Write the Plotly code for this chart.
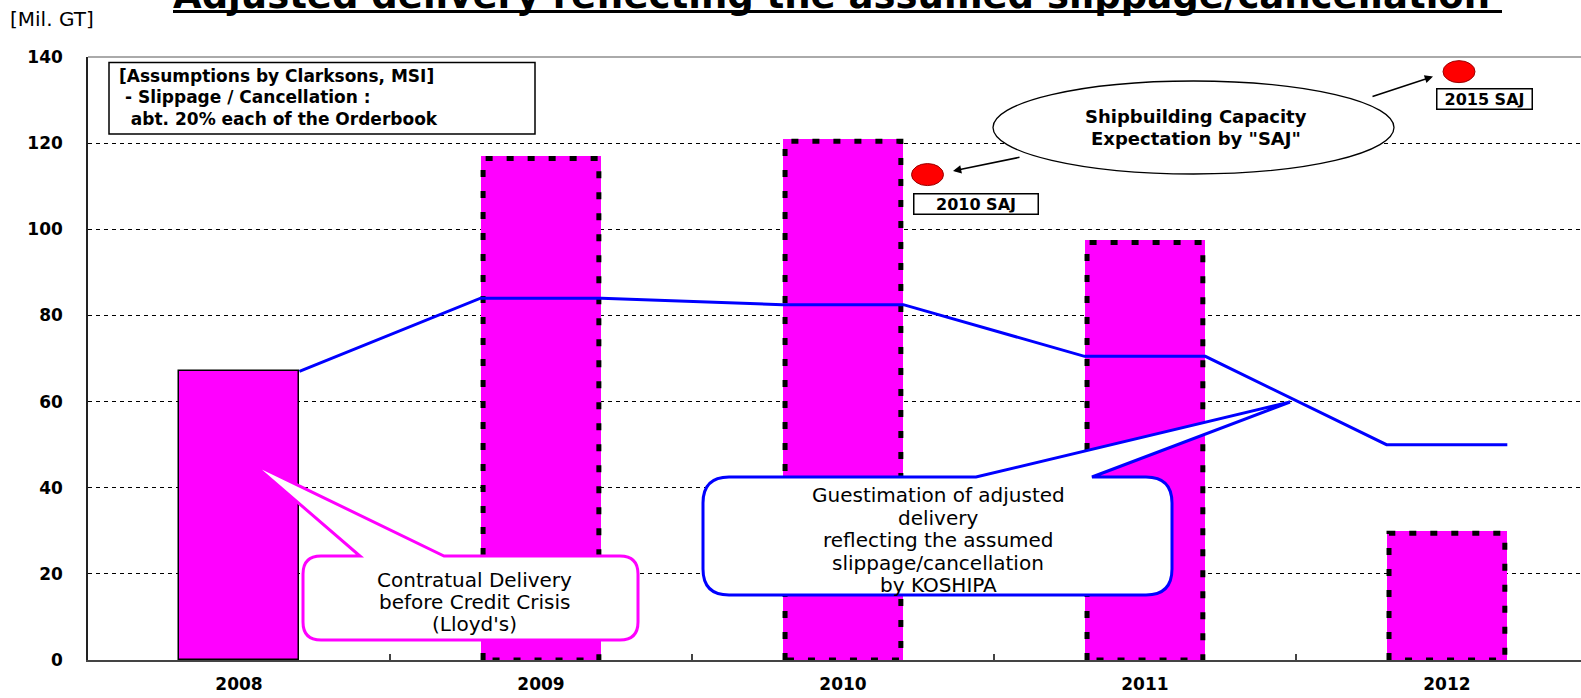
import plotly.graph_objects as go

# ---- data -------------------------------------------------------------
years = ["2008", "2009", "2010", "2011", "2012"]
contractual = [67, 117, 121, 97.5, 30]          # Contractual delivery (Lloyd's)
adjusted = [67, 84, 82.5, 70.5, 50]             # KOSHIPA adjusted delivery
saj_labels = ["2010 SAJ", "2015 SAJ"]
saj_values = [112.7, 136.6]                     # SAJ capacity expectation
y_ticks = [0, 20, 40, 60, 80, 100, 120, 140]

# ---- geometry ---------------------------------------------------------
W, H = 1581, 698
ML, MR, MT, MB = 88, 0, 57, 38
X_RANGE = [-0.5, 4.444]
Y_RANGE = [0, 140]
BAR_W = 0.4
saj_pos = [2.28, 4.04]                          # where the SAJ dots sit on the x scale

PW = W - ML - MR
PH = H - MT - MB
UX = PW / (X_RANGE[1] - X_RANGE[0])             # px per category unit
UY = PH / (Y_RANGE[1] - Y_RANGE[0])             # px per Mil. GT


def px(x):
    return (x - ML) / PW


def py(y):
    return (H - MB - y) / PH


MAGENTA = "#FF00FF"
BLUE = "#0000FF"
FONT = "DejaVu Sans"

fig = go.Figure()
idx = list(range(len(years)))

# bars
fig.add_trace(go.Bar(
    x=idx, y=contractual, width=BAR_W,
    marker=dict(color=MAGENTA,
                line=dict(color="#000000", width=[1.5, 0, 0, 0, 0])),
    showlegend=False, hoverinfo="skip"))

# dotted outlines on the forecast bars (2009 onwards)
dx = 2.5 / UX
dy = 2.5 / UY
for i in idx[1:]:
    v = contractual[i]
    xl, xr = i - BAR_W / 2 + dx, i + BAR_W / 2 - dx
    fig.add_trace(go.Scatter(
        x=[xl, xl, xr, xr, xl], y=[0, v - dy, v - dy, 0, 0],
        mode="lines", line=dict(color="#000000", width=5, dash="7px,14px"),
        showlegend=False, hoverinfo="skip"))

# adjusted delivery line, flat across each bar
line_x, line_y = [], []
for i, v in zip(idx, adjusted):
    if i > 0:
        line_x.append(i - BAR_W / 2)
        line_y.append(v)
    line_x.append(i + BAR_W / 2)
    line_y.append(v)
fig.add_trace(go.Scatter(x=line_x, y=line_y, mode="lines",
                         line=dict(color=BLUE, width=3),
                         showlegend=False, hoverinfo="skip"))

shapes = []
annotations = []


def text_block(lines, x, cy, spacing, size, bold=False, xanchor="center"):
    n = len(lines)
    for k, s in enumerate(lines):
        yk = cy + (k - (n - 1) / 2) * spacing
        annotations.append(dict(
            xref="paper", yref="paper", x=px(x), y=py(yk),
            xanchor=xanchor, yanchor="middle", showarrow=False,
            text=("<b>%s</b>" % s) if bold else s,
            font=dict(family=FONT, size=size, color="#000000")))


# top frame line
shapes.append(dict(type="line", xref="paper", yref="paper", x0=0, x1=1,
                   y0=1, y1=1, line=dict(color="#AAAAAA", width=2)))

# SAJ dots
for xpos, val in zip(saj_pos, saj_values):
    shapes.append(dict(type="circle", xref="x", yref="y",
                       xsizemode="pixel", ysizemode="pixel",
                       xanchor=xpos, yanchor=val,
                       x0=-16, x1=16, y0=-11, y1=11,
                       fillcolor="#FF0000", line=dict(color="#990000", width=1),
                       layer="above"))

# SAJ labels
for lab, (cx, cy, w) in zip(saj_labels, [(976, 204, 121), (1484, 99.5, 92)]):
    annotations.append(dict(
        xref="paper", yref="paper", x=px(cx), y=py(cy), text="<b>%s</b>" % lab,
        showarrow=False, xanchor="center", yanchor="middle", width=w, height=17,
        bordercolor="#000000", borderwidth=1.5, borderpad=1, bgcolor="#FFFFFF",
        font=dict(family=FONT, size=16, color="#000000")))

# assumptions box
shapes.append(dict(type="rect", xref="paper", yref="paper",
                   x0=px(109), x1=px(535), y0=py(62.5), y1=py(134),
                   fillcolor="#FFFFFF", line=dict(color="#000000", width=1.5),
                   layer="above"))
text_block(["[Assumptions by Clarksons, MSI]",
            " - Slippage / Cancellation :",
            "  abt. 20% each of the Orderbook"],
           117, 97.5, 21.7, 17, bold=True, xanchor="left")

# ellipse callout
shapes.append(dict(type="circle", xref="paper", yref="paper",
                   x0=px(993), x1=px(1394), y0=py(174), y1=py(81),
                   fillcolor="#FFFFFF", line=dict(color="#000000", width=1.3),
                   layer="above"))
text_block(["Shipbuilding Capacity", "Expectation by \"SAJ\""],
           1196, 127, 22, 18, bold=True)

# arrows from the ellipse to the SAJ dots
for (sx, sy), (tx, ty) in [((1021, 157), (953, 171)), ((1371, 97), (1433, 76.6))]:
    annotations.append(dict(
        xref="paper", yref="paper", x=px(tx), y=py(ty), ax=sx - tx, ay=sy - ty,
        axref="pixel", ayref="pixel", text="", showarrow=True,
        arrowhead=2, arrowsize=1.1, arrowwidth=1.5, arrowcolor="#000000"))


def callout_path(x0, y0, x1, y1, r, bx0, bx1, tipx, tipy):
    pts = [
        ("M", (x0 + r, y0)), ("L", (bx0, y0)), ("L", (tipx, tipy)), ("L", (bx1, y0)),
        ("L", (x1 - r, y0)), ("Q", (x1, y0), (x1, y0 + r)),
        ("L", (x1, y1 - r)), ("Q", (x1, y1), (x1 - r, y1)),
        ("L", (x0 + r, y1)), ("Q", (x0, y1), (x0, y1 - r)),
        ("L", (x0, y0 + r)), ("Q", (x0, y0), (x0 + r, y0)),
    ]
    out = []
    for cmd, *coords in pts:
        out.append(cmd + " ".join("%.5f,%.5f" % (px(a), py(b)) for a, b in coords))
    return " ".join(out) + " Z"


# Lloyd's callout
shapes.append(dict(type="path", xref="paper", yref="paper",
                   path=callout_path(303, 556, 638, 640, 18, 360, 444, 252, 463),
                   fillcolor="#FFFFFF", line=dict(color=MAGENTA, width=3), layer="above"))
text_block(["Contratual Delivery", "before Credit Crisis", "(Lloyd's)"],
           474, 602, 22, 20)

# KOSHIPA callout
shapes.append(dict(type="path", xref="paper", yref="paper",
                   path=callout_path(703, 477, 1172, 595, 26, 976, 1092, 1290, 402),
                   fillcolor="#FFFFFF", line=dict(color=BLUE, width=3), layer="above"))
text_block(["Guestimation of adjusted", "delivery", "reflecting the assumed",
            "slippage/cancellation", "by KOSHIPA"],
           938, 540, 22.5, 20)

# unit label
annotations.append(dict(
    xref="paper", yref="paper", x=px(8), y=py(19), xanchor="left", yanchor="middle",
    showarrow=False, text="[Mil. GT]", font=dict(family=FONT, size=20, color="#000000")))

# title (runs off the top edge) with its underline
annotations.append(dict(
    xref="paper", yref="paper", x=px(831), y=py(19), xanchor="center", yanchor="bottom",
    showarrow=False,
    text="<b>Adjusted delivery reflecting the assumed slippage/cancellation</b>",
    font=dict(family=FONT, size=37, color="#000000")))
shapes.append(dict(type="line", xref="paper", yref="paper",
                   x0=px(173), x1=px(1502), y0=py(11.5), y1=py(11.5),
                   line=dict(color="#000000", width=3)))

fig.update_layout(
    width=W, height=H,
    margin=dict(l=ML, r=MR, t=MT, b=MB, pad=0, autoexpand=False),
    paper_bgcolor="#FFFFFF", plot_bgcolor="#FFFFFF",
    bargap=0, showlegend=False,
    shapes=shapes, annotations=annotations,
    xaxis=dict(range=X_RANGE, tickvals=idx, ticktext=years, ticks="",
               showgrid=False, zeroline=False, showline=True,
               linecolor="#444444", linewidth=2, automargin=False,
               minor=dict(tickvals=[0.5, 1.5, 2.5, 3.5], ticks="inside",
                          ticklen=6, tickwidth=1.5, tickcolor="#444444",
                          showgrid=False),
               tickfont=dict(family=FONT, size=17, color="#000000", weight="bold"),
               ticklabelstandoff=8, fixedrange=True),
    yaxis=dict(range=Y_RANGE, tickvals=y_ticks, ticks="",
               showgrid=True, gridcolor="#000000", gridwidth=1, griddash="4px,4px",
               zeroline=False, showline=True, linecolor="#222222", linewidth=1.5,
               automargin=False,
               tickfont=dict(family=FONT, size=17, color="#000000", weight="bold"),
               ticklabelstandoff=20, fixedrange=True),
)

fig.write_html("out.html")
